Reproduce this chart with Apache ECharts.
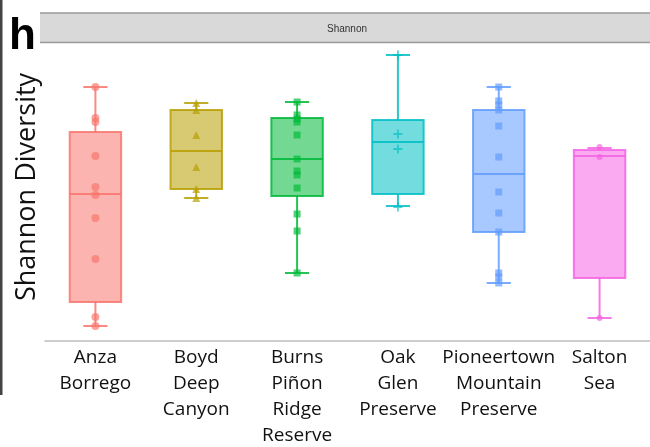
<!DOCTYPE html>
<html>
<head>
<meta charset="utf-8">
<script src="https://cdn.jsdelivr.net/npm/echarts@6/dist/echarts.min.js"></script>
<style>html,body{margin:0;padding:0;background:#fff}#c{width:650px;height:447px}</style>
</head>
<body>
<div id="c"></div>
<script>
// Categories (sites)
var categories = ['Anza\nBorrego', 'Boyd\nDeep\nCanyon', 'Burns\nPiñon\nRidge\nReserve', 'Oak\nGlen\nPreserve', 'Pioneertown\nMountain\nPreserve', 'Salton\nSea'];
// Box stats: [low whisker, Q1, median, Q3, high whisker]
var boxStats = [
  [0.15, 0.39, 1.47, 2.09, 2.54],
  [1.43, 1.52, 1.90, 2.31, 2.38],
  [0.68, 1.45, 1.82, 2.23, 2.39],
  [1.35, 1.47, 1.99, 2.21, 2.86],
  [0.58, 1.09, 1.67, 2.31, 2.54],
  [0.23, 0.63, 1.85, 1.91, 1.93]
];
// Sample points per site
var anzaPoints = [2.54, 2.23, 2.19, 1.85, 1.54, 1.46, 1.23, 0.82, 0.24, 0.15];
var boydPoints = [2.38, 2.31, 2.06, 1.74, 1.52, 1.43];
var burnsPoints = [2.39, 2.26, 2.22, 2.19, 2.06, 1.82, 1.70, 1.66, 1.53, 1.27, 1.10, 0.68];
var oakPoints = [2.86, 2.07, 1.92, 1.34];
var pioneerPoints = [2.54, 2.40, 2.36, 2.31, 2.15, 1.84, 1.49, 1.28, 1.09, 0.68, 0.64, 0.58];
var saltonPoints = [1.94, 1.84, 0.23];
var allPoints = [anzaPoints, boydPoints, burnsPoints, oakPoints, pioneerPoints, saltonPoints];

var baseColors = [[248,118,109],[183,159,0],[0,186,56],[0,191,196],[97,156,255],[245,100,227]];
function rgba(c,a){return 'rgba('+c[0]+','+c[1]+','+c[2]+','+a+')';}
var plusPath = 'path://M4,0L6,0L6,4L10,4L10,6L6,6L6,10L4,10L4,6L0,6L0,4L4,4Z';
var symbols = ['circle','triangle','rect',plusPath,'rect','circle'];
var symbolSizes = [8,8,7,9,7,6];

var chart = echarts.init(document.getElementById('c'));

var boxData = boxStats.map(function(s,i){return [i].concat(s);});

var series = [{
  type: 'custom',
  data: boxData,
  encode: {x: 0, y: [1,2,3,4,5]},
  z: 2,
  renderItem: function(params, api){
    var i = api.value(0);
    var bw = api.size([1,0])[0];
    var cx = api.coord([i, api.value(3)])[0];
    var yLow = api.coord([i, api.value(1)])[1];
    var yQ1 = api.coord([i, api.value(2)])[1];
    var yMed = api.coord([i, api.value(3)])[1];
    var yQ3 = api.coord([i, api.value(4)])[1];
    var yHigh = api.coord([i, api.value(5)])[1];
    var hw = bw*0.255, cw = bw*0.12;
    var stroke = rgba(baseColors[i],0.85), fill = rgba(baseColors[i],0.55);
    var ls = {stroke: stroke, lineWidth: 2};
    return {type:'group', children:[
      {type:'line', shape:{x1:cx,y1:yQ3,x2:cx,y2:yHigh}, style:ls},
      {type:'line', shape:{x1:cx,y1:yQ1,x2:cx,y2:yLow}, style:ls},
      {type:'line', shape:{x1:cx-cw,y1:yHigh,x2:cx+cw,y2:yHigh}, style:ls},
      {type:'line', shape:{x1:cx-cw,y1:yLow,x2:cx+cw,y2:yLow}, style:ls},
      {type:'rect', shape:{x:cx-hw,y:yQ3,width:2*hw,height:yQ1-yQ3}, style:{fill:fill, stroke:stroke, lineWidth:2}},
      {type:'line', shape:{x1:cx-hw,y1:yMed,x2:cx+hw,y2:yMed}, style:ls}
    ]};
  }
}];
allPoints.forEach(function(pts,i){
  series.push({
    type:'scatter',
    data: pts.map(function(v){return [i,v];}),
    symbol: symbols[i],
    symbolSize: symbolSizes[i],
    z: 3,
    itemStyle:{color: rgba(baseColors[i],0.85)}
  });
});

chart.setOption({
  animation: false,
  grid: {left: 45, right: 0, top: 41, bottom: 106, containLabel: false, outerBoundsMode: 'none'},
  xAxis: {
    type: 'category',
    data: categories,
    boundaryGap: true,
    axisLine: {lineStyle: {color: '#bdbdbd', width: 1.5}},
    axisTick: {alignWithLabel: true, length: 4, lineStyle: {color: '#bdbdbd'}},
    axisLabel: {interval: 0, margin: 4, color: '#111', fontFamily: '"Open Sans"', fontSize: 19, lineHeight: 26}
  },
  yAxis: {
    type: 'value', min: 0, max: 3,
    axisLine: {show: false}, axisTick: {show: false}, axisLabel: {show: false}, splitLine: {show: false}
  },
  graphic: [
    {type:'rect', left: 0, top: 0, shape:{x:0,y:0,width:2.5,height:395}, style:{fill:'#444'}},
    {type:'rect', shape:{x:40,y:13,width:620,height:30}, style:{fill:'#d9d9d9'}},
    {type:'line', shape:{x1:40,y1:13,x2:650,y2:13}, style:{stroke:'#9a9a9a', lineWidth:1.5}},
    {type:'line', shape:{x1:40,y1:42.5,x2:650,y2:42.5}, style:{stroke:'#9a9a9a', lineWidth:1.5}},
    {type:'text', x:347, y:29, style:{text:'Shannon', fill:'#333', font:'10px "Liberation Sans"', align:'center', verticalAlign:'middle'}},
    {type:'text', x:9, y:37, style:{text:'h', fill:'#000', font:'bold 44px "Liberation Sans"', align:'left', verticalAlign:'middle'}},
    {type:'text', x:27, y:187, rotation: Math.PI/2, style:{text:'Shannon Diversity', fill:'#111', font:'27px "Open Sans"', align:'center', verticalAlign:'middle'}}
  ],
  series: series
});
</script>
</body>
</html>
